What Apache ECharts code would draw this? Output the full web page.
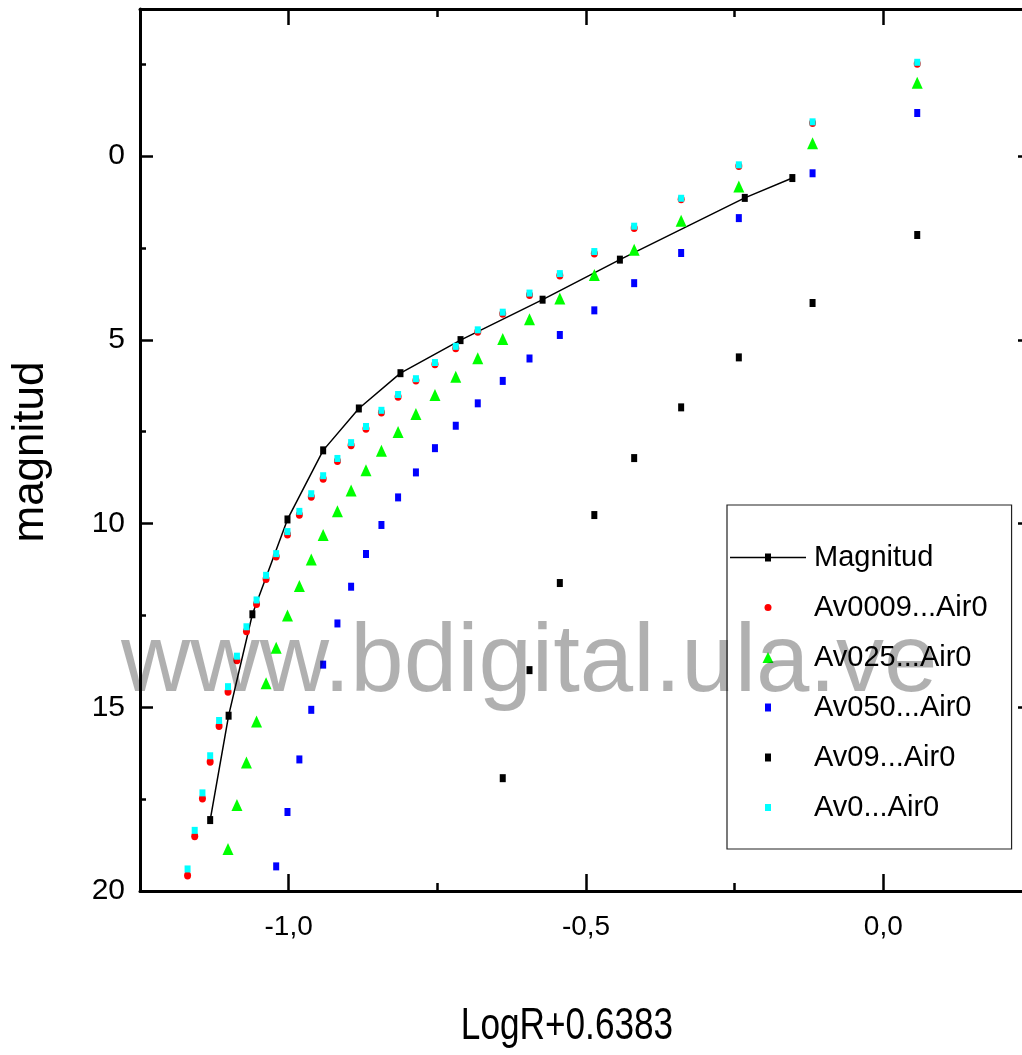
<!DOCTYPE html>
<html>
<head>
<meta charset="utf-8">
<script src="https://cdn.jsdelivr.net/npm/echarts@6/dist/echarts.min.js"></script>
<style>
html,body{margin:0;padding:0;background:#fff;}
#chart{width:1022px;height:1055px;}
</style>
</head>
<body>
<div id="chart"></div>
<script>
// ---- data ----
var xGrid = [0.057, -0.119, -0.243, -0.340, -0.419, -0.486, -0.544, -0.595, -0.640, -0.682, -0.719, -0.754, -0.786, -0.816, -0.844, -0.870, -0.895, -0.918, -0.942, -0.962, -0.982, -1.002, -1.021, -1.038, -1.054, -1.071, -1.087, -1.102, -1.117, -1.132, -1.145, -1.158, -1.170];
var av0009 = [-2.51, -0.90, 0.27, 1.18, 1.96, 2.65, 3.25, 3.78, 4.29, 4.78, 5.23, 5.67, 6.11, 6.55, 6.98, 7.42, 7.87, 8.30, 8.78, 9.27, 9.76, 10.30, 10.90, 11.51, 12.19, 12.93, 13.72, 14.58, 15.51, 16.48, 17.48, 18.51, 19.58];
var av025 = [-1.99, -0.35, 0.83, 1.76, 2.55, 3.24, 3.88, 4.44, 4.98, 5.50, 6.01, 6.50, 7.02, 7.51, 8.02, 8.55, 9.10, 9.67, 10.31, 10.98, 11.70, 12.50, 13.38, 14.35, 15.39, 16.50, 17.66, 18.86];
var av050 = [-1.17, 0.47, 1.69, 2.64, 3.46, 4.20, 4.87, 5.51, 6.12, 6.73, 7.34, 7.95, 8.61, 9.29, 10.04, 10.83, 11.72, 12.72, 13.84, 15.07, 16.42, 17.85, 19.33];
var av09 = [2.15, 4.00, 5.48, 6.84, 8.22, 9.77, 11.62, 13.99, 16.93];
var av0 = [-2.55, -0.93, 0.24, 1.15, 1.91, 2.60, 3.20, 3.73, 4.25, 4.73, 5.18, 5.62, 6.06, 6.49, 6.92, 7.36, 7.80, 8.23, 8.70, 9.19, 9.67, 10.22, 10.82, 11.41, 12.08, 12.81, 13.61, 14.44, 15.36, 16.32, 17.33, 18.35, 19.40];
var magX = [-0.153, -0.233, -0.443, -0.573, -0.711, -0.812, -0.882, -0.942, -1.002, -1.061, -1.101, -1.132];
var magY = [0.60, 1.14, 2.82, 3.91, 5.01, 5.91, 6.87, 8.01, 9.89, 12.47, 15.23, 18.07];
var xTicks = [-1.0, -0.5, 0.0];
var xMinor = [-0.75, -0.25];
var yTicks = [0, 5, 10, 15, 20];
var yMinor = [-2.5, 2.5, 7.5, 12.5, 17.5];
var seriesNames = ['Magnitud', 'Av0009...Air0', 'Av025...Air0', 'Av050...Air0', 'Av09...Air0', 'Av0...Air0'];

function zip(xs, ys) { return ys.map(function (y, i) { return [xs[i], y]; }); }

var FONT = "'Liberation Sans', Arial, sans-serif";
var X_MIN = -1.25, X_MAX = 0.25, Y_MIN = -4, Y_MAX = 20;

// legend icons (padded with moveTo points so keepAspect keeps them at natural size)
var ICONS = [
  'path://M0,0M76,12M0,5.3H76V6.7H0ZM35,2H41V10H35Z',
  'path://M0,0M12,12M2.5,6A3.5,3.5,0,1,0,9.5,6A3.5,3.5,0,1,0,2.5,6Z',
  'path://M0,0M12,12M6,0.5L11.5,11.5L0.5,11.5Z',
  'path://M0,0M12,12M3,2H9V10H3Z',
  'path://M0,0M12,12M3,2H9V10H3Z',
  'path://M0,0M12,12M3,2.5H9V9.5H3Z'
];

function xAx(pos, ticks, len, showLine, showLabel) {
  return {
    type: 'value', position: pos, min: X_MIN, max: X_MAX,
    axisLine: { show: showLine, onZero: false, lineStyle: { color: '#000', width: 3 } },
    axisTick: { show: true, inside: true, length: len, customValues: ticks, lineStyle: { color: '#000', width: 2.5 } },
    axisLabel: showLabel ? {
      show: true, customValues: ticks, margin: 22, color: '#000', fontSize: 28, fontFamily: FONT,
      formatter: function (v) { return v.toFixed(1).replace('.', ','); }
    } : { show: false },
    splitLine: { show: false }
  };
}
function yAx(pos, ticks, len, showLine, showLabel) {
  return {
    type: 'value', position: pos, min: Y_MIN, max: Y_MAX, inverse: true,
    axisLine: { show: showLine, onZero: false, lineStyle: { color: '#000', width: 3 } },
    axisTick: { show: true, inside: true, length: len, customValues: ticks, lineStyle: { color: '#000', width: 2.5 } },
    axisLabel: showLabel ? {
      show: true, customValues: ticks, margin: 15, color: '#000', fontSize: 30, fontFamily: FONT
    } : { show: false },
    splitLine: { show: false }
  };
}

var chart = echarts.init(document.getElementById('chart'), null, { renderer: 'canvas' });
var option = {
  backgroundColor: '#fff',
  animation: false,
  grid: { left: 140, top: 9, right: -10, bottom: 164, containLabel: false, outerBoundsMode: 'none' },
  xAxis: [
    xAx('bottom', xTicks, 17, true, true),
    xAx('top', xTicks, 16, true, false),
    xAx('bottom', xMinor, 8, false, false),
    xAx('top', xMinor, 8, false, false)
  ],
  yAxis: [
    yAx('left', yTicks, 13, true, true),
    yAx('right', yTicks, 14, true, false),
    yAx('left', yMinor, 6, false, false),
    yAx('right', yMinor, 6, false, false)
  ],
  legend: {
    orient: 'vertical', left: 727, top: 505,
    padding: [38, 24, 27, 3],
    itemWidth: 76, itemHeight: 12, itemGap: 21,
    symbolKeepAspect: true,
    backgroundColor: '#fff',
    borderColor: '#222', borderWidth: 1.2, borderRadius: 0,
    textStyle: { fontSize: 29, fontFamily: FONT, color: '#000', padding: [0, 0, 0, 3] },
    data: seriesNames.map(function (n, i) { return { name: n, icon: ICONS[i] }; })
  },
  series: [
    { name: seriesNames[0], type: 'line', data: zip(magX, magY), symbol: 'rect', symbolSize: [6, 8],
      itemStyle: { color: '#000', opacity: 1 }, lineStyle: { color: '#000', width: 1.5 }, z: 2 },
    { name: seriesNames[1], type: 'scatter', data: zip(xGrid, av0009), symbol: 'circle', symbolSize: [7, 8],
      itemStyle: { color: '#ff0000', opacity: 1 }, z: 3 },
    { name: seriesNames[2], type: 'scatter', data: zip(xGrid, av025), symbol: 'triangle', symbolSize: [11, 12],
      itemStyle: { color: '#00ff00', opacity: 1 }, z: 3 },
    { name: seriesNames[3], type: 'scatter', data: zip(xGrid, av050), symbol: 'rect', symbolSize: [6, 8],
      itemStyle: { color: '#0000ff', opacity: 1 }, z: 3 },
    { name: seriesNames[4], type: 'scatter', data: zip(xGrid, av09), symbol: 'rect', symbolSize: [6, 8],
      itemStyle: { color: '#000000', opacity: 1 }, z: 3 },
    { name: seriesNames[5], type: 'scatter', data: zip(xGrid, av0), symbol: 'rect', symbolSize: [6, 7],
      itemStyle: { color: '#00ffff', opacity: 1 }, z: 4 }
  ],
  graphic: [
    { type: 'text', x: 567, y: 1027, scaleX: 0.8, z: 10,
      style: { text: 'LogR+0.6383', font: '44px ' + FONT, fill: '#000', align: 'center', verticalAlign: 'middle' } },
    { type: 'text', x: 31, y: 452, rotation: Math.PI / 2, z: 10,
      style: { text: 'magnitud', font: '44px ' + FONT, fill: '#000', align: 'center', verticalAlign: 'middle' } },
    { type: 'text', x: 121, y: 665, z: 100, silent: true,
      style: { text: 'www.bdigital.ula.ve', font: '96px "Liberation Sans", Arial, sans-serif', fill: 'rgba(0,0,0,0.31)', align: 'left', verticalAlign: 'middle' } }
  ]
};
chart.setOption(option);
</script>
</body>
</html>
